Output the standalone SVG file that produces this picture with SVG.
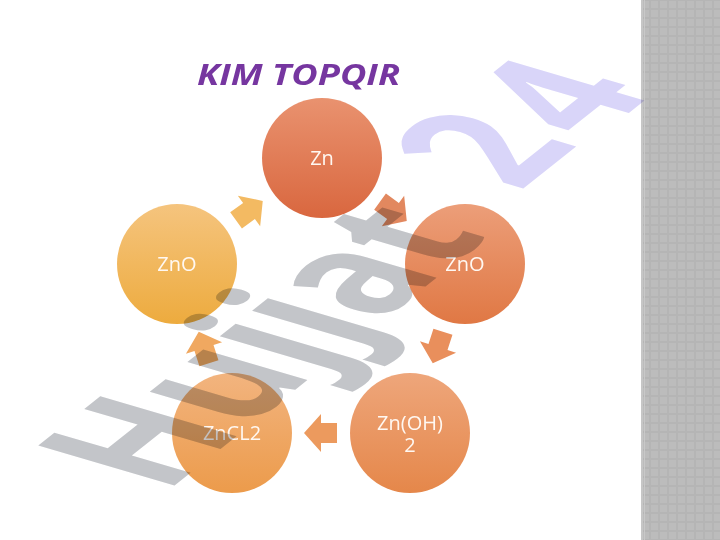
<svg xmlns="http://www.w3.org/2000/svg" width="720" height="540" viewBox="0 0 720 540">
<style>
.lbl{font-family:"Open Sans","Liberation Sans",sans-serif;font-size:20px;fill:#fff8f2;text-anchor:middle}
.title{font-family:"Open Sans","Liberation Sans",sans-serif;font-size:29px;font-weight:700;font-style:italic;fill:#7636a0}
.wm{font-family:"Open Sans","Liberation Sans",sans-serif;font-size:100px;font-weight:700;mix-blend-mode:multiply}
</style>
<defs>
<pattern id="chk" width="9" height="9" patternUnits="userSpaceOnUse" x="641" y="0">
<rect width="9" height="9" fill="#b5b5b5"/>
<rect x="1" y="1" width="7" height="7" fill="#bcbcbc"/>
</pattern>
<linearGradient id="g1" x1="0" y1="0" x2="0" y2="1"><stop offset="0" stop-color="#e9926f"/><stop offset="1" stop-color="#d9673f"/></linearGradient>
<linearGradient id="g2" x1="0" y1="0" x2="0" y2="1"><stop offset="0" stop-color="#ec9e79"/><stop offset="1" stop-color="#e07844"/></linearGradient>
<linearGradient id="g3" x1="0" y1="0" x2="0" y2="1"><stop offset="0" stop-color="#eea67b"/><stop offset="1" stop-color="#e5874a"/></linearGradient>
<linearGradient id="g4" x1="0" y1="0" x2="0" y2="1"><stop offset="0" stop-color="#f2b47f"/><stop offset="1" stop-color="#ec9b4b"/></linearGradient>
<linearGradient id="g5" x1="0" y1="0" x2="0" y2="1"><stop offset="0" stop-color="#f5c47e"/><stop offset="1" stop-color="#edab3e"/></linearGradient>
<path id="arr" d="M-16,-10 H0 V-19 L17,0 L0,19 V10 H-16 Z"/>
</defs>
<rect width="720" height="540" fill="#ffffff"/>
<g id="side-panel">
<rect x="641" y="0" width="79" height="540" fill="url(#chk)"/>
<rect x="641" y="0" width="2" height="540" fill="#c6c6c6"/>
<rect x="644" y="0" width="1" height="540" fill="#c8c8c8"/>
</g>
<g id="title"><text class="title" x="197" y="85" textLength="203" lengthAdjust="spacingAndGlyphs">KIM TOPQIR</text></g>
<g id="connectors">
<use href="#arr" transform="translate(393,211) rotate(36)" fill="#e2885f"/>
<use href="#arr" transform="translate(438,347) rotate(108)" fill="#e98f5c"/>
<use href="#arr" transform="translate(321,433) rotate(180)" fill="#ec9a5e"/>
<use href="#arr" transform="translate(204,348) rotate(252)" fill="#f0a860"/>
<use href="#arr" transform="translate(249,211) rotate(324)" fill="#f3ba62"/>
</g>
<g id="node-zn"><circle cx="322" cy="158" r="60" fill="url(#g1)"/><text class="lbl" x="322" y="165">Zn</text></g>
<g id="node-zno-right"><circle cx="465" cy="264" r="60" fill="url(#g2)"/><text class="lbl" x="465" y="271">ZnO</text></g>
<g id="node-znoh2"><circle cx="410" cy="433" r="60" fill="url(#g3)"/><text class="lbl" x="410" y="430">Zn(OH)<tspan x="410" dy="22">2</tspan></text></g>
<g id="node-zncl2"><circle cx="232" cy="433" r="60" fill="url(#g4)"/><text class="lbl" x="232" y="440">ZnCL2</text></g>
<g id="node-zno-left"><circle cx="177" cy="264" r="60" fill="url(#g5)"/><text class="lbl" x="177" y="271">ZnO</text></g>
<g id="watermark">
<text class="wm" transform="matrix(1.06,-0.84,1.908,0.561,165,493)"><tspan fill="#c3c5c9">Hujjat</tspan><tspan fill="#d9d5f9" dx="45 7" dy="-10 4">24</tspan></text>
</g>
</svg>
